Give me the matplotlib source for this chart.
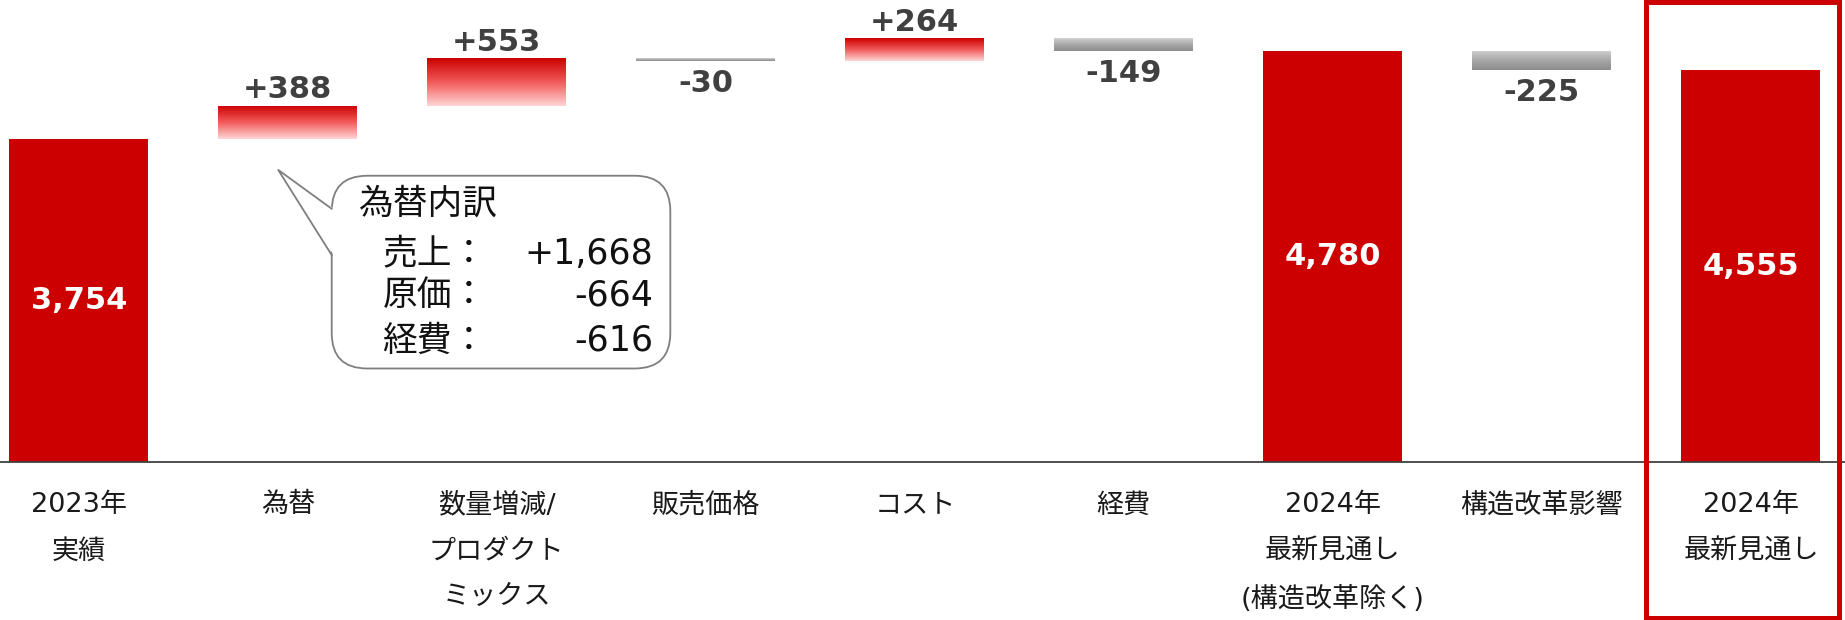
import numpy as np
import matplotlib
matplotlib.use('Agg')
import matplotlib.pyplot as plt
from matplotlib.colors import LinearSegmentedColormap
from matplotlib.patches import FancyBboxPatch, Polygon, Rectangle
import matplotlib.transforms as mtransforms

plt.rcParams['font.family'] = ['DejaVu Sans', 'Noto Sans CJK JP']

# data
labels = ['2023年\n実績', '為替', '数量増減/\nプロダクト\nミックス', '販売価格', 'コスト',
          '経費', '2024年\n最新見通し\n(構造改革除く)', '構造改革影響', '2024年\n最新見通し']
values = [3754, 388, 553, -30, 264, -149, 4780, -225, 4555]
is_total = [True, False, False, False, False, False, True, False, True]

fx_items = ['売上：', '原価：', '経費：']
fx_values = ['+1,668', '-664', '-616']

RED = '#cc0000'
red_cmap = LinearSegmentedColormap.from_list('r', ['#cc0000', '#f25a5a', '#ffd6d6'])
grey_cmap = LinearSegmentedColormap.from_list('g', ['#d2d2d2', '#a8a8a8', '#8c8c8c'])

# waterfall bottoms
bottoms, heights = [], []
run = 0
for v, t in zip(values, is_total):
    if t:
        bottoms.append(0)
        heights.append(v)
        run = v
    else:
        bottoms.append(run if v > 0 else run + v)
        heights.append(abs(v))
        run += v

fig = plt.figure(figsize=(18.45, 6.2), dpi=100)
ax = fig.add_axes([0, 0.255, 1, 0.745])

x = np.arange(len(values))
w = 0.665
bars = ax.bar(x, heights, bottom=bottoms, width=w,
              color=[RED if t else 'none' for t in is_total], zorder=2)

grad = np.linspace(0, 1, 256).reshape(-1, 1)
for b, v, t in zip(bars, values, is_total):
    if t:
        continue
    x0, y0 = b.get_x(), b.get_y()
    im = ax.imshow(grad, cmap=red_cmap if v > 0 else grey_cmap, aspect='auto',
                   extent=[x0, x0 + b.get_width(), y0, y0 + b.get_height()],
                   origin='upper', zorder=2)
    im.set_clip_path(b)

# value labels
for xi, b, v, t in zip(x, bars, values, is_total):
    if t:
        ax.text(xi, b.get_y() + b.get_height() / 2, f'{v:,}', ha='center', va='center',
                color='white', fontsize=22, fontweight='bold', zorder=3)
    elif v > 0:
        ax.annotate(f'+{v:,}', (xi, b.get_y() + b.get_height()), xytext=(0, 1),
                    textcoords='offset points', ha='center', va='bottom',
                    color='#404040', fontsize=22, fontweight='bold')
    else:
        ax.annotate(f'{v:,}', (xi, b.get_y()), xytext=(0, -6),
                    textcoords='offset points', ha='center', va='top',
                    color='#404040', fontsize=22, fontweight='bold')

# axes styling
for s in ['top', 'left', 'right']:
    ax.spines[s].set_visible(False)
ax.spines['bottom'].set_color('#404040')
ax.spines['bottom'].set_linewidth(1.3)
ax.set_yticks([])
ax.set_xticks(x)
ax.set_xticklabels(labels, fontsize=19.5, color='#1a1a1a', linespacing=2.0)
ax.tick_params(axis='x', length=0, pad=22)

# callout for FX breakdown
ed = '#7f7f7f'
bx0, bx1, by0, by1 = 1.21, 2.83, 1086, 3327
box = FancyBboxPatch((bx0, by0), bx1 - bx0, by1 - by0,
                     boxstyle='round,pad=0,rounding_size=0.17', mutation_aspect=2426,
                     fc='white', ec=ed, lw=1.3, zorder=4)
ax.add_patch(box)
tip = (0.954, 3395)
a1, a2 = (bx0, 2943), (bx0, 2404)
ax.add_patch(Polygon([tip, (bx0 + 0.01, a1[1]), (bx0 + 0.01, a2[1])],
                     closed=True, fc='white', ec='none', zorder=5))
ax.plot([a1[0], tip[0], a2[0]], [a1[1], tip[1], a2[1]], color=ed, lw=1.3, zorder=5)

ax.text(1.34, 3005, '為替内訳', fontsize=25, va='center', ha='left', color='#111111', zorder=6)
for i, (k, val) in enumerate(zip(fx_items, fx_values)):
    yy = [2418, 1940, 1407][i]
    ax.text(1.453, yy, k, fontsize=25, va='center', ha='left', color='#111111', zorder=6)
    ax.text(2.748, yy, val, fontsize=25, va='center', ha='right', color='#111111', zorder=6)

ax.set_xlim(-0.377, 8.45)
ax.set_ylim(0, 5370)

# highlight frame on final category
trans = mtransforms.blended_transform_factory(ax.transData, fig.transFigure)
ax.add_patch(Rectangle((7.5, 0.004), 0.92, 0.992, transform=trans, fill=False,
                       ec=RED, lw=3.6, clip_on=False, zorder=7))

fig.savefig('out.png', dpi=100)
